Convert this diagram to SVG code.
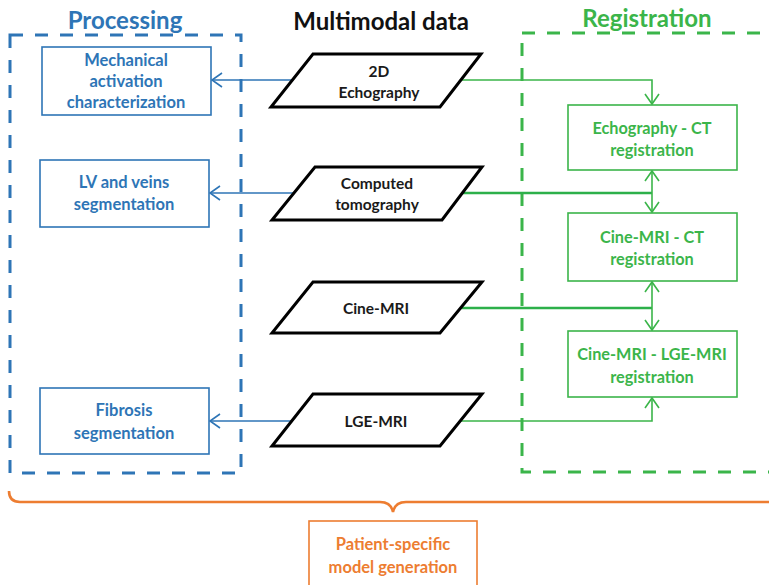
<svg xmlns="http://www.w3.org/2000/svg" width="769" height="585" viewBox="0 0 769 585">
<defs>
<style>
text{font-family:Lato,"Liberation Sans",sans-serif;font-weight:bold;text-anchor:middle}
.title{font-size:24px}
.bt{fill:#2e75b6;font-size:16.5px}
.gt{fill:#3bb54a;font-size:16.3px}
.dt{fill:#1a1a1a;font-size:15.5px}
.ot{fill:#ed7d31;font-size:16.5px}
.bbox{fill:#fff;stroke:#2e75b6;stroke-width:1.6}
.gbox{fill:#fff;stroke:#3bb54a;stroke-width:1.6}
.para{fill:#fff;stroke:#000;stroke-width:3}
.bl{fill:none;stroke:#2e75b6;stroke-width:1.6}
.gl{fill:none;stroke:#3bb54a;stroke-width:1.6}
.gl2{fill:none;stroke:#2db04a;stroke-width:2.6}
</style>
<marker id="ab" markerUnits="userSpaceOnUse" markerWidth="14" markerHeight="18" refX="11" refY="8" orient="auto" viewBox="0 0 14 16">
<path d="M1,1 L11,8 L1,15" fill="none" stroke="#2e75b6" stroke-width="1.6"/>
</marker>
<marker id="ag" markerUnits="userSpaceOnUse" markerWidth="14" markerHeight="18" refX="11" refY="8" orient="auto" viewBox="0 0 14 16">
<path d="M1,1 L11,8 L1,15" fill="none" stroke="#3bb54a" stroke-width="1.6"/>
</marker>
</defs>
<rect width="769" height="585" fill="#fff"/>

<g id="processing-group">
<rect x="10" y="35" width="231" height="438" fill="none" stroke="#2e75b6" stroke-width="3" stroke-dasharray="13,12"/>
<text class="title" x="125" y="29" fill="#2e75b6">Processing</text>
</g>
<g id="registration-group">
<rect x="522" y="33" width="260" height="439" fill="none" stroke="#3bb54a" stroke-width="3" stroke-dasharray="13,12"/>
<text class="title" x="647" y="27" fill="#3bb54a">Registration</text>
</g>
<g id="multimodal-title">
<text class="title" x="381" y="30" fill="#111">Multimodal data</text>
</g>

<g id="connectors">
<path class="bl" d="M292,80 H212" marker-end="url(#ab)"/>
<path class="bl" d="M293,193 H210" marker-end="url(#ab)"/>
<path class="bl" d="M292,421 H210" marker-end="url(#ab)"/>
<path class="gl" d="M460,80 H652 V104" marker-end="url(#ag)"/>
<path class="gl2" d="M462,193 H652"/>
<path class="gl" d="M652,193 V171" marker-end="url(#ag)"/>
<path class="gl" d="M652,193 V212" marker-end="url(#ag)"/>
<path class="gl2" d="M461,308 H652"/>
<path class="gl" d="M652,308 V282" marker-end="url(#ag)"/>
<path class="gl" d="M652,308 V330" marker-end="url(#ag)"/>
<path class="gl" d="M461,421 H652 V398" marker-end="url(#ag)"/>
</g>

<g id="mechanical">
<rect class="bbox" x="42" y="47" width="169" height="68"/>
<text class="bt" x="126" y="66">Mechanical</text>
<text class="bt" x="126" y="87">activation</text>
<text class="bt" x="126" y="108">characterization</text>
</g>
<g id="lv-veins">
<rect class="bbox" x="40" y="160" width="169" height="67"/>
<text class="bt" x="124" y="188">LV and veins</text>
<text class="bt" x="124" y="210">segmentation</text>
</g>
<g id="fibrosis">
<rect class="bbox" x="40" y="388" width="169" height="66"/>
<text class="bt" x="124" y="416">Fibrosis</text>
<text class="bt" x="124" y="439">segmentation</text>
</g>

<g id="echography">
<polygon class="para" points="313,54 481,54 440,107 271,107"/>
<text class="dt" x="379" y="77">2D</text>
<text class="dt" x="379" y="98">Echography</text>
</g>
<g id="ct">
<polygon class="para" points="315,167 482,167 442,220 272,220"/>
<text class="dt" x="377" y="189">Computed</text>
<text class="dt" x="377" y="210">tomography</text>
</g>
<g id="cine-mri">
<polygon class="para" points="313,282 482,282 440,333 272,333"/>
<text class="dt" x="376" y="314">Cine-MRI</text>
</g>
<g id="lge-mri">
<polygon class="para" points="313,394 482,394 440,446 272,446"/>
<text class="dt" x="376" y="427">LGE-MRI</text>
</g>

<g id="echo-ct-reg">
<rect class="gbox" x="568" y="105" width="169" height="65"/>
<text class="gt" x="652" y="134">Echography - CT</text>
<text class="gt" x="652" y="156">registration</text>
</g>
<g id="cine-ct-reg">
<rect class="gbox" x="568" y="213" width="169" height="68"/>
<text class="gt" x="652" y="243">Cine-MRI - CT</text>
<text class="gt" x="652" y="265">registration</text>
</g>
<g id="cine-lge-reg">
<rect class="gbox" x="568" y="331" width="169" height="66"/>
<text class="gt" x="652" y="360">Cine-MRI - LGE-MRI</text>
<text class="gt" x="652" y="383">registration</text>
</g>

<g id="brace">
<path d="M9,491 Q9,502 20,502 H380 Q391,502 393,512 Q395,502 406,502 H775" fill="none" stroke="#ed7d31" stroke-width="2.6"/>
</g>
<g id="patient-model">
<rect x="309" y="521" width="168" height="80" fill="#fff" stroke="#ed7d31" stroke-width="1.6"/>
<text class="ot" x="393" y="550">Patient-specific</text>
<text class="ot" x="393" y="573">model generation</text>
</g>
</svg>
